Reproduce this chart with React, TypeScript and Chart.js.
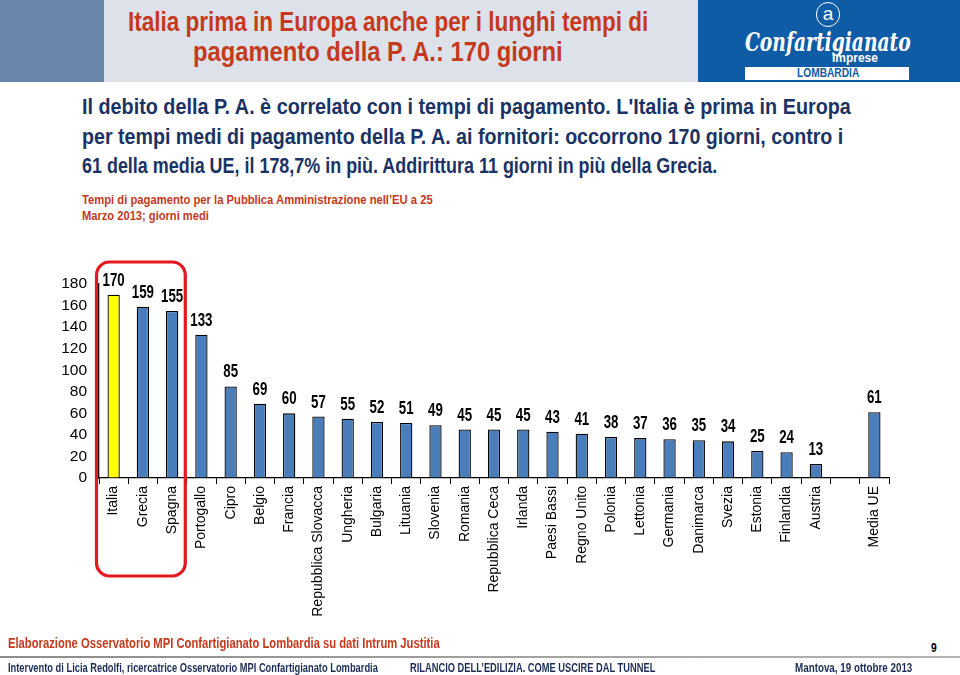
import React, { useEffect, useLayoutEffect, useRef } from "react";
import { Chart, registerables } from "chart.js";
Chart.register(...registerables);

const categories = [
  "Italia", "Grecia", "Spagna", "Portogallo", "Cipro", "Belgio", "Francia",
  "Repubblica Slovacca", "Ungheria", "Bulgaria", "Lituania", "Slovenia",
  "Romania", "Repubblica Ceca", "Irlanda", "Paesi Bassi", "Regno Unito",
  "Polonia", "Lettonia", "Germania", "Danimarca", "Svezia", "Estonia",
  "Finlandia", "Austria", "", "Media UE",
];
const values: (number | null)[] = [
  170, 159, 155, 133, 85, 69, 60, 57, 55, 52, 51, 49, 45, 45, 45, 43, 41,
  38, 37, 36, 35, 34, 25, 24, 13, null, 61,
];
const highlighted = ["Italia"];
const boxedCategories = ["Italia", "Grecia", "Spagna"];
const yMin = 0;
const yMax = 180;
const yStep = 20;

const SANS = '"Liberation Sans", Arial, sans-serif';

const titleLines = [
  "Italia prima in Europa anche per i lunghi tempi di",
  "pagamento della P. A.: 170 giorni",
];
const bodyLines = [
  "Il debito della P. A. è correlato con i tempi di pagamento. L'Italia è prima in Europa",
  "per tempi medi di pagamento della P. A. ai fornitori: occorrono 170 giorni, contro i",
  "61 della media UE, il 178,7% in più. Addirittura 11 giorni in più della Grecia.",
];
const subtitleLines = [
  "Tempi di pagamento per la Pubblica Amministrazione nell\u2019EU a 25",
  "Marzo 2013; giorni medi",
];
const sourceText = "Elaborazione Osservatorio MPI Confartigianato Lombardia su dati Intrum Justitia";
const pageNumber = "9";
const footerLeft = "Intervento di Licia Redolfi, ricercatrice Osservatorio MPI Confartigianato Lombardia";
const footerMid = "RILANCIO DELL\u2019EDILIZIA. COME USCIRE DAL TUNNEL";
const footerRight = "Mantova, 19 ottobre 2013";

type FitProps = {
  text: string; left: number; top: number; width: number; size: number;
  color: string; bold?: boolean; lh?: number; family?: string; italic?: boolean;
};
function Fit({ text, left, top, width, size, color, bold = true, lh, family = SANS, italic = false }: FitProps) {
  const ref = useRef<HTMLSpanElement>(null);
  useLayoutEffect(() => {
    const el = ref.current;
    if (!el) return;
    el.style.transform = "none";
    const natural = el.offsetWidth;
    if (natural > 0) el.style.transform = `scaleX(${width / natural})`;
  }, [text, width, size]);
  return (
    <span
      ref={ref}
      style={{
        position: "absolute", left, top, whiteSpace: "nowrap", display: "inline-block",
        transformOrigin: "0 0", fontFamily: family, fontSize: size, fontStyle: italic ? "italic" : "normal",
        lineHeight: `${lh ?? Math.round(size * 1.15)}px`, fontWeight: bold ? "bold" : "normal", color,
      }}
    >
      {text}
    </span>
  );
}

function ChartCanvas() {
  const ref = useRef<HTMLCanvasElement>(null);
  useEffect(() => {
    if (!ref.current) return;
    const overlay = {
      id: "overlay",
      afterDatasetsDraw(chart: any) {
        const ctx = chart.ctx;
        const meta = chart.getDatasetMeta(0);
        ctx.save();
        ctx.font = `bold 17.5px ${SANS}`;
        ctx.fillStyle = "#000";
        ctx.textAlign = "center";
        ctx.textBaseline = "bottom";
        meta.data.forEach((bar: any, i: number) => {
          const v = values[i];
          if (v == null) return;
          ctx.save();
          ctx.translate(bar.x, bar.y - 5);
          ctx.scale(0.76, 1);
          ctx.fillText(String(v), 0, 0);
          ctx.restore();
        });
        const xs = chart.scales.x;
        const half = xs.width / categories.length / 2;
        const i0 = categories.indexOf(boxedCategories[0]);
        const i1 = categories.indexOf(boxedCategories[boxedCategories.length - 1]);
        const left = xs.getPixelForValue(i0) - half - 2.5;
        const right = xs.getPixelForValue(i1) + half - 1.5;
        const top = chart.chartArea.top - 22;
        const bottom = chart.chartArea.bottom + 98;
        ctx.strokeStyle = "#e3191f";
        ctx.lineWidth = 3.2;
        ctx.beginPath();
        ctx.roundRect(left, top, right - left, bottom - top, 13);
        ctx.stroke();
        ctx.restore();
      },
    };
    const chart = new Chart(ref.current, {
      type: "bar",
      data: {
        labels: categories,
        datasets: [
          {
            data: values,
            backgroundColor: categories.map((c) => (highlighted.includes(c) ? "#ffff00" : "#4a7ebb")),
            borderColor: "#000",
            borderWidth: 1.3,
            barPercentage: 0.42,
            categoryPercentage: 1,
          },
        ],
      },
      options: {
        animation: false,
        responsive: false,
        devicePixelRatio: 1,
        layout: { padding: { left: 0, right: 71, top: 34, bottom: 0 } },
        plugins: { legend: { display: false }, tooltip: { enabled: false } },
        scales: {
          y: {
            min: yMin,
            max: yMax,
            ticks: { stepSize: yStep, autoSkip: false, color: "#000", font: { family: SANS, size: 15.5 }, padding: 8 },
            grid: { drawOnChartArea: false, drawTicks: true, tickLength: 4, color: "#000" },
            border: { display: true, color: "#000", width: 1.3 },
            afterFit: (s: any) => { s.width = 99; },
          },
          x: {
            offset: true,
            ticks: {
              autoSkip: false, maxRotation: 90, minRotation: 90, color: "#000",
              font: { family: SANS, size: 14 }, padding: 2,
            },
            grid: { offset: true, drawOnChartArea: false, drawTicks: true, tickLength: 6, color: "#000" },
            border: { display: true, color: "#000", width: 1.3 },
            afterFit: (s: any) => { s.height = 157; },
          },
        },
      },
      plugins: [overlay],
    });
    return () => chart.destroy();
  }, []);
  return <canvas ref={ref} width={960} height={385} style={{ position: "absolute", left: 0, top: 250 }} />;
}

export default function App() {
  const abs = (s: React.CSSProperties): React.CSSProperties => ({ position: "absolute", whiteSpace: "nowrap", ...s });
  const red = "#c5391c";
  const navy = "#1b3364";
  return (
    <div style={{ position: "absolute", left: 0, top: 0, width: 960, height: 675, background: "#fff", overflow: "hidden", fontFamily: SANS }}>
      {/* header */}
      <div style={abs({ left: 0, top: 0, width: 104, height: 82, background: "#6886aa" })} />
      <div style={abs({ left: 104, top: 0, width: 594, height: 82, background: "#dde2ea" })} />
      <div style={abs({ left: 698, top: 0, width: 262, height: 82, background: "#0f5ca6" })} />
      <Fit text={titleLines[0]} left={128} top={6} width={520} size={28} lh={32} color={red} />
      <Fit text={titleLines[1]} left={193} top={36} width={370} size={28} lh={32} color={red} />
      {/* logo */}
      <div style={abs({ left: 816, top: 2, width: 24, height: 25, borderRadius: 12, border: "1.5px solid #fff", color: "#fff", fontFamily: SANS, fontSize: 19, lineHeight: "21px", textAlign: "center", boxSizing: "border-box" })}>a</div>
      <Fit text="Confartigianato" left={745} top={28} width={166} size={26} lh={28} color="#fff" family='"DejaVu Serif", serif' italic />
      <Fit text="Imprese" left={832} top={51} width={46} size={13} lh={14} color="#fff" />
      <div style={abs({ left: 745, top: 67, width: 164, height: 13, background: "#fff" })} />
      <Fit text="LOMBARDIA" left={797} top={67} width={62} size={12} lh={13} color="#0f5ca6" />
      {/* body */}
      {bodyLines.map((l, i) => (
        <Fit key={i} text={l} left={82} top={93 + i * 29.5} width={[769, 761, 635][i]} size={22} lh={27} color={navy} />
      ))}
      {subtitleLines.map((l, i) => (
        <Fit key={i} text={l} left={82} top={192 + i * 16} width={[351, 127][i]} size={13.5} lh={16} color={red} />
      ))}
      <ChartCanvas />
      {/* footer */}
      <Fit text={sourceText} left={8} top={634} width={432} size={14.5} lh={18} color={red} />
      <Fit text={pageNumber} left={931} top={641} width={6} size={12} lh={14} color="#000" />
      <div style={abs({ left: 0, top: 656, width: 960, height: 2, background: "linear-gradient(to right, #8c8c8c, #b4b4b4)" })} />
      <Fit text={footerLeft} left={8} top={661} width={370} size={12} lh={14} color="#1b2c56" />
      <Fit text={footerMid} left={410} top={661} width={245} size={12} lh={14} color="#1b2c56" />
      <Fit text={footerRight} left={795} top={661} width={117} size={12} lh={14} color="#1b2c56" />
    </div>
  );
}
